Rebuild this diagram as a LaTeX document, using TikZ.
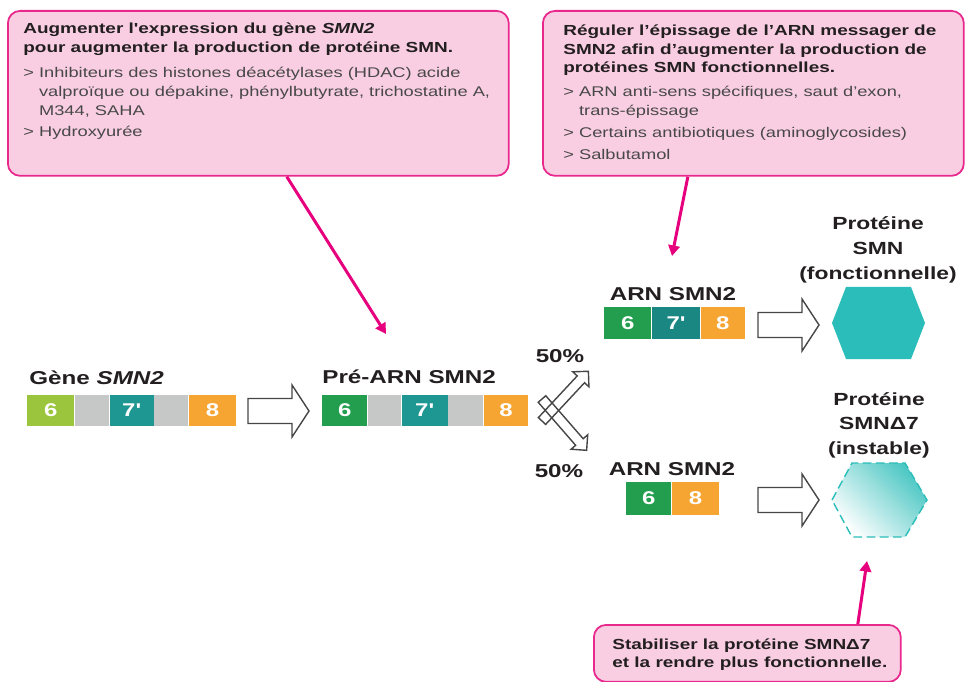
\documentclass[tikz,border=0pt]{standalone}
\usepackage{fontspec}
\setmainfont{Liberation Sans}
\usetikzlibrary{arrows.meta, positioning}
\definecolor{boxpink}{RGB}{249,206,226}
\definecolor{linepink}{RGB}{232,40,140}
\definecolor{arrowpink}{RGB}{230,0,126}
\definecolor{exlime}{RGB}{155,197,61}
\definecolor{exgreen}{RGB}{34,158,78}
\definecolor{exteal}{RGB}{30,150,145}
\definecolor{exorange}{RGB}{246,165,51}
\definecolor{intgray}{RGB}{198,199,199}
\definecolor{hexteal}{RGB}{43,189,185}
\definecolor{bodygray}{RGB}{72,72,72}
\definecolor{inkdark}{RGB}{35,31,32}
\definecolor{arrowgray}{RGB}{70,70,70}
\newcommand{\wide}[1]{\scalebox{1.3}[1]{#1}}
\newcommand{\bodyline}{\color{bodygray}\fontsize{8.0}{10.4}\selectfont}

\begin{document}
\begin{tikzpicture}[x=0.02cm, y=-0.02cm,
  note/.style={rectangle, draw=linepink, fill=boxpink, line width=1pt, rounded corners=7pt,
               anchor=north west, inner sep=0pt},
  notetext/.style={anchor=base west, inner sep=0pt, text=inkdark, font=\fontsize{8.3}{10.4}\selectfont},
  barlabel/.style={inner sep=0pt, text=inkdark, font=\bfseries\fontsize{10.6}{12}\selectfont},
  exon/.style={rectangle, inner sep=0pt, minimum height=0.62cm, text=white,
               font=\bfseries\fontsize{10.5}{12}\selectfont},
  intron/.style={exon, fill=intgray},
  hollowline/.style={draw=arrowgray, line width=0.8pt, line join=miter},
  pinkarrow/.style={draw=arrowpink, line width=1.7pt, -{Triangle[length=6pt, width=6.5pt]}},
  hollow/.pic={\draw[hollowline] (0,-12.5) -- (44,-12.5) -- (44,-26) -- (61,0) -- (44,26) -- (44,12.5) -- (0,12.5) -- cycle;},
  slim/.pic={\draw[hollowline] (0,-5) -- (57,-5) -- (57,-11) -- (68,0) -- (57,11) -- (57,5) -- (0,5) -- cycle;}
]
\useasboundingbox (0,0) rectangle (967,682);

% boxes with the therapeutic approaches
\node[note, minimum width=10.02cm, minimum height=3.3cm] (noteL) at (7,10) {};
\node[note, minimum width=8.42cm, minimum height=3.3cm] (noteR) at (542,10) {};
\node[note, minimum width=6.14cm, minimum height=1.14cm] (noteB) at (593,624) {};

\node[notetext] (txtL) at (23,34) {\wide{\begin{tabular}[t]{@{}l@{}}
  \textbf{Augmenter l\textquotesingle expression du gène \textit{SMN2}}\\
  \textbf{pour augmenter la production de protéine SMN.}\\[4pt]
  \bodyline > Inhibiteurs des histones déacétylases (HDAC) acide\\[0.4pt]
  \bodyline \phantom{> }valproïque ou dépakine, phénylbutyrate, trichostatine A,\\[0.4pt]
  \bodyline \phantom{> }M344, SAHA\\[1.5pt]
  \bodyline > Hydroxyurée
\end{tabular}}};
\node[notetext] (txtR) at (563,36) {\wide{\begin{tabular}[t]{@{}l@{}}
  \textbf{Réguler l’épissage de l’ARN messager de}\\
  \textbf{SMN2 afin d’augmenter la production de}\\
  \textbf{protéines SMN fonctionnelles.}\\[3.4pt]
  \bodyline > ARN anti-sens spécifiques, saut d’exon,\\
  \bodyline \phantom{> }trans-épissage\\[2.3pt]
  \bodyline > Certains antibiotiques (aminoglycosides)\\[2.3pt]
  \bodyline > Salbutamol
\end{tabular}}};
\node[notetext] (txtB) at (612,649) {\wide{\begin{tabular}[t]{@{}l@{}}
  \textbf{Stabiliser la protéine SMNΔ7}\\[0.4pt]
  \textbf{et la rendre plus fonctionnelle.}
\end{tabular}}};

% gene SMN2
\node[barlabel, anchor=base west] (geneLbl) at (29,384) {\wide{Gène \textit{SMN2}}};
\node[exon, fill=exlime, minimum width=0.94cm, anchor=west] (g6) at (27,410.5) {\wide{6}};
\node[intron, minimum width=0.68cm, right=0pt of g6] (gi1) {};
\node[exon, fill=exteal, minimum width=0.88cm, right=0pt of gi1] (g7) {\wide{7\textquotesingle}};
\node[intron, minimum width=0.68cm, right=0pt of g7] (gi2) {};
\node[exon, fill=exorange, minimum width=0.94cm, right=0pt of gi2] (g8) {\wide{8}};

\pic at (248,411) {hollow};

% pre-messenger
\node[barlabel, anchor=base west] (preLbl) at (322,383) {\wide{Pré-ARN SMN2}};
\node[exon, fill=exgreen, minimum width=0.90cm, anchor=west] (p6) at (322,410.5) {\wide{6}};
\node[intron, minimum width=0.66cm, right=0pt of p6] (pi1) {};
\node[exon, fill=exteal, minimum width=0.92cm, right=0pt of pi1] (p7) {\wide{7\textquotesingle}};
\node[intron, minimum width=0.70cm, right=0pt of p7] (pi2) {};
\node[exon, fill=exorange, minimum width=0.88cm, right=0pt of pi2] (p8) {\wide{8}};

% splitting 50/50
\pic[rotate=-49] at (542,399) {slim};
\pic[rotate=47] at (542,421) {slim};
\node[barlabel, anchor=base] (pctUp) at (560,362) {\wide{50\%}};
\node[barlabel, anchor=base] (pctDown) at (559,477) {\wide{50\%}};

% messenger RNAs
\node[barlabel, anchor=base] (arnLbl) at (673,300) {\wide{ARN SMN2}};
\node[exon, fill=exgreen, minimum width=0.94cm, minimum height=0.64cm, anchor=west] (a6) at (604,323) {\wide{6}};
\node[exon, fill=exteal!90!black, minimum width=0.96cm, minimum height=0.64cm, right=0pt of a6] (a7) {\wide{7\textquotesingle}};
\node[exon, fill=exorange, minimum width=0.88cm, minimum height=0.64cm, right=0pt of a7] (a8) {\wide{8}};

\node[barlabel, anchor=base] (arnLblB) at (672,475) {\wide{ARN SMN2}};
\node[exon, fill=exgreen, minimum width=0.90cm, minimum height=0.66cm, anchor=west] (b6) at (626,498.5) {\wide{6}};
\node[exon, fill=exorange, minimum width=0.94cm, minimum height=0.66cm, right=0pt of b6] (b8) {\wide{8}};

\pic at (758,325) {hollow};
\pic at (758,500) {hollow};

% proteins
\node[barlabel, anchor=base, font=\bfseries\fontsize{10}{14.2}\selectfont] (protOk) at (878,230)
  {\wide{\begin{tabular}[t]{@{}c@{}}Protéine\\SMN\\(fonctionnelle)\end{tabular}}};
\fill[hexteal] (832,323) -- (846,287) -- (911,287) -- (925,323) -- (911,359) -- (846,359) -- cycle;

\node[barlabel, anchor=base, font=\bfseries\fontsize{10}{14.2}\selectfont] (protDel) at (879,405)
  {\wide{\begin{tabular}[t]{@{}c@{}}Protéine\\SMNΔ7\\(instable)\end{tabular}}};
\path[draw=hexteal, line width=0.8pt, dash pattern=on 5pt off 2.5pt,
      top color=hexteal!85, bottom color=white, shading angle=-45]
  (832,500) -- (852,463) -- (905,463) -- (927,500) -- (905,537) -- (852,537) -- cycle;

% pink pointers
\coordinate (tipPre) at (386,334);
\coordinate (tipArn) at (672,256);
\coordinate (tipHex) at (867,561);
\draw[pinkarrow] ([xshift=0.57cm]noteL.south) -- (tipPre);
\draw[pinkarrow] ([xshift=-1.31cm]noteR.south) -- (tipArn);
\draw[pinkarrow] ([xshift=2.21cm]noteB.north) -- (tipHex);
\end{tikzpicture}
\end{document}
